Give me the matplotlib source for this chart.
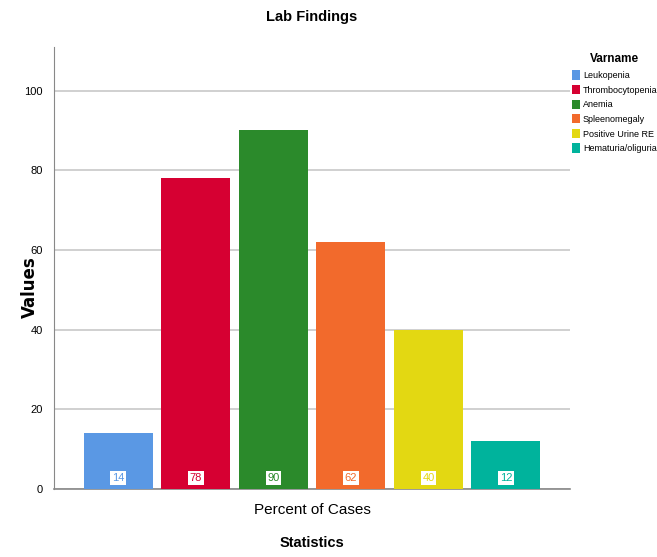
import matplotlib
matplotlib.use("Agg")
import matplotlib.pyplot as plt
from matplotlib.patches import Patch

plt.rcParams['font.family'] = ['Liberation Sans Narrow', 'Liberation Sans', 'DejaVu Sans']

# data
findings = ["Leukopenia", "Thrombocytopenia", "Anemia",
            "Spleenomegaly", "Positive Urine RE", "Hematuria/oliguria"]
values = [14, 78, 90, 62, 40, 12]
colors = ["#5a98e4", "#d60032", "#2b8a2b", "#f26a2c", "#e3d812", "#00b39c"]

fig = plt.figure(figsize=(6.57, 5.57), dpi=100)
ax = fig.add_axes([0.082, 0.122, 0.786, 0.794])

x = list(range(len(values)))
ax.bar(x, values, width=0.89, color=colors, zorder=3)

# value labels in white boxes near the base
for xi, v, c in zip(x, values, colors):
    ax.text(xi, 2.8, str(v), ha="center", va="center", fontsize=8,
            color=c, zorder=4,
            bbox=dict(boxstyle="square,pad=0.15", fc="white", ec="none"))

ax.set_xlim(-0.83, 5.83)
ax.set_ylim(0, 111)
ax.set_yticks([0, 20, 40, 60, 80, 100])
ax.yaxis.grid(True, color="#c8c8c8", linewidth=1.2, zorder=0)
ax.tick_params(axis="y", length=0, labelsize=8, pad=8)
ax.set_xticks([2.5])
ax.set_xticklabels(["Percent of Cases"], fontsize=11)
ax.tick_params(axis="x", length=0, pad=10)

for s in ["top", "right"]:
    ax.spines[s].set_visible(False)
ax.spines["left"].set_color("#888888")
ax.spines["bottom"].set_color("#888888")
ax.spines["bottom"].set_linewidth(1.2)

fig.text(0.046, 0.485, "Values", rotation=90, ha="center", va="center",
         fontsize=12, fontweight="bold", family=["DejaVu Sans"])
fig.text(0.475, 0.969, "Lab Findings", ha="center", va="center",
         fontsize=10.5, fontweight="bold")
fig.text(0.475, 0.018, "Statistics", ha="center", fontsize=10.5, fontweight="bold")

handles = [Patch(facecolor=c, edgecolor="none") for c in colors]
leg = fig.legend(handles, findings, title="Varname", loc="upper left",
                 bbox_to_anchor=(0.862, 0.914), frameon=False, fontsize=6.5,
                 title_fontproperties={"weight": "bold", "size": 8.5},
                 handlelength=0.9, handleheight=1.2, handletextpad=0.35,
                 labelspacing=0.55, borderaxespad=0.2)

fig.savefig("out.png", dpi=100)
